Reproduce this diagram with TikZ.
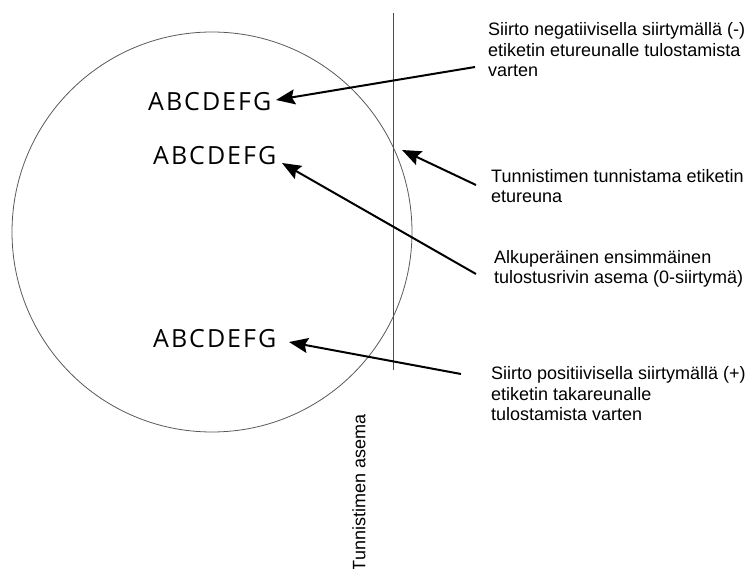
\documentclass[tikz,border=0pt]{standalone}
\usepackage{fontspec}
\setmainfont{Liberation Sans}
\newfontfamily\abcfont{Open Sans}
\usetikzlibrary{arrows.meta}
\newlength\lsp
\setlength\lsp{2pt}
\newcommand\abcrow{A\kern\lsp B\kern\lsp C\kern\lsp D\kern\lsp E\kern\lsp F\kern\lsp G}
\tikzset{
  abc/.style={font=\abcfont\fontsize{25}{28}\selectfont, inner sep=0pt, anchor=base west},
  lbl/.style={font=\fontsize{18}{20.5}\selectfont, inner sep=0pt, anchor=base west, align=left},
  ptr/.style={line width=2pt, -{Stealth[length=19pt,width=15pt,inset=3pt]}, shorten >=0pt},
}
\begin{document}
\begin{tikzpicture}[x=1pt,y=-1pt]
\useasboundingbox (0,0) rectangle (756,569);
% circle and sensor line
\draw[line width=0.8pt, black!65] (212,232) circle[radius=200];
\draw[line width=0.9pt, black!70] (393,13) -- (393,370);
% texts in circle
\node[abc] (r1) at (148,111) {\abcrow};
\node[abc] (r2) at (153,165) {\abcrow};
\node[abc] (r3) at (153,348) {\abcrow};
% labels (anchored at the baseline of their last line)
\node[lbl] (l1) at (488,77) {Siirto negatiivisella siirtymällä (-)\\etiketin etureunalle tulostamista\\varten};
\node[lbl] (l2) at (491,203) {Tunnistimen tunnistama etiketin\\etureuna};
\node[lbl] (l3) at (494,284) {Alkuperäinen ensimmäinen\\tulostusrivin asema (0-siirtymä)};
\node[lbl] (l4) at (491,421) {Siirto positiivisella siirtymällä (+)\\etiketin takareunalle\\tulostamista varten};
\node[font=\fontsize{18}{20.5}\selectfont, inner sep=0pt, rotate=90] (sensor) at (359,493) {Tunnistimen asema};
% arrow ends
\coordinate (t1) at (475,67);
\coordinate (h1) at (276,100);
\coordinate (t2) at (476,185);
\coordinate (h2) at (402,150);
\coordinate (t3) at (476,274);
\coordinate (h3) at (282,163);
\coordinate (t4) at (461,374);
\coordinate (h4) at (289,342);
\draw[ptr] (t1) -- (h1);
\draw[ptr] (t2) -- (h2);
\draw[ptr] (t3) -- (h3);
\draw[ptr] (t4) -- (h4);
\end{tikzpicture}
\end{document}
